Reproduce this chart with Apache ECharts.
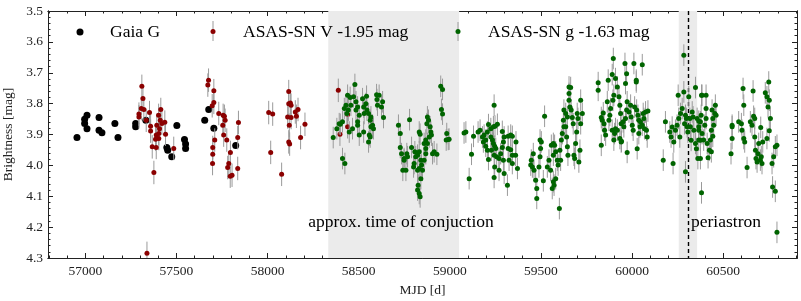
<!DOCTYPE html>
<html><head><meta charset="utf-8">
<script src="https://cdn.jsdelivr.net/npm/echarts@6/dist/echarts.min.js"></script>
<style>html,body{margin:0;padding:0;background:#fff}#c{width:801px;height:301px}</style>
</head><body><div id="c"></div>
<script>
// ---------- data (MJD, magnitude) ----------
const xMajorTicks = [57000,57500,58000,58500,59000,59500,60000,60500];
const yMajorTicks = [3.5,3.6,3.7,3.8,3.9,4.0,4.1,4.2,4.3];
const X_MIN = 56795, X_MAX = 60905, Y_MIN = 3.5, Y_MAX = 4.3;

const conjunctionBand = [58333, 59051];
const periastronBand = [60256, 60357];
const periastronMJD = 60307;

const gaiaG = [[56954,3.910],[56996,3.851],[56996,3.864],[57009,3.838],[57009,3.881],[57075,3.845],[57075,3.886],[57091,3.894],[57162,3.864],[57179,3.910],[57276,3.864],[57276,3.875],[57332,3.854],[57447,3.942],[57452,3.951],[57474,3.972],[57502,3.871],[57544,3.916],[57550,3.931],[57550,3.945],[57655,3.854],[57677,3.819],[57705,3.880],[57825,3.936]];

const asasV2015 = [[57310,3.744],[57316,3.783],[57307,3.816],[57321,3.819],[57294,3.834],[57294,3.843],[57352,3.829],[57334,3.854],[57358,3.873],[57358,3.889],[57414,3.819],[57402,3.838],[57411,3.854],[57436,3.860],[57420,3.864],[57392,3.870],[57407,3.881],[57403,3.897],[57389,3.902],[57440,3.899],[57403,3.913],[57385,3.915],[57367,3.940],[57389,3.942],[57485,3.945],[57376,4.023],[57338,4.285]];
const asasV2016 = [[57676,3.724],[57672,3.740],[57705,3.758],[57705,3.796],[57696,3.807],[57732,3.832],[57756,3.838],[57763,3.841],[57767,3.854],[57840,3.861],[57754,3.870],[57759,3.902],[57776,3.918],[57836,3.910],[57710,3.918],[57699,3.942],[57796,3.958],[57699,3.964],[57698,3.994],[57787,3.994],[57781,4.007],[57836,4.010],[57795,4.035],[57805,4.032]];
const asasV2017 = [[58006,3.829],[58028,3.834],[58116,3.761],[58116,3.800],[58125,3.798],[58129,3.805],[58110,3.843],[58129,3.845],[58152,3.827],[58167,3.819],[58158,3.841],[58119,3.870],[58205,3.867],[58181,3.910],[58116,3.924],[58121,3.931],[58017,3.958],[58077,4.029]];
const asasV2018 = [[58388,3.757],[58439,3.835],[58439,3.875],[58397,3.899]];

const asasG2018 = [[58360,3.910],[58380,3.881],[58393,3.865],[58411,3.859],[58399,3.867],[58421,3.816],[58430,3.805],[58439,3.773],[58453,3.780],[58479,3.738],[58472,3.778],[58485,3.794],[58494,3.811],[58485,3.821],[58503,3.838],[58494,3.870],[58494,3.859],[58466,3.881],[58448,3.892],[58527,3.811],[58521,3.784],[58543,3.776],[58539,3.800],[58545,3.821],[58530,3.832],[58554,3.832],[58567,3.843],[58563,3.854],[58576,3.870],[58581,3.881],[58567,3.875],[58527,3.892],[58503,3.902],[58558,3.902],[58563,3.908],[58554,3.924],[58598,3.771],[58612,3.773],[58600,3.787],[58603,3.805],[58625,3.811],[58631,3.794],[58636,3.845],[58411,3.978],[58424,3.994],[58435,3.832],[58443,3.821],[58457,3.805]];
const asasG2019 = [[58718,3.870],[58728,3.897],[58779,3.852],[58728,3.942],[58735,3.962],[58749,3.978],[58742,4.016],[58759,4.016],[58749,3.983],[58764,3.962],[58768,3.972],[58790,3.942],[58808,3.956],[58813,3.972],[58804,3.994],[58801,4.005],[58823,4.016],[58832,3.892],[58837,3.899],[58823,3.967],[58832,3.956],[58841,3.983],[58845,3.999],[58832,4.010],[58850,4.016],[58823,4.080],[58832,4.091],[58837,4.102],[58826,4.064],[58841,4.043],[58859,3.983],[58868,3.962],[58868,3.945],[58877,3.929],[58874,3.865],[58883,3.854],[58877,3.843],[58892,3.875],[58896,3.892],[58887,3.908],[58868,3.918],[58859,3.929],[58899,3.902],[58905,3.962],[58914,3.956],[58929,3.964],[58950,3.744],[58960,3.754],[58954,3.819],[58960,3.834],[58983,3.897],[58991,3.916],[58996,3.915],[58980,3.918]];
const asasG2020 = [[59078,3.895],[59088,3.892],[59119,3.964],[59106,4.043],[59130,3.906],[59155,3.892],[59166,3.886],[59179,3.908],[59184,3.924],[59197,3.938],[59206,3.951],[59212,3.868],[59225,3.881],[59212,3.981],[59243,3.805],[59239,3.875],[59248,3.873],[59261,3.867],[59225,3.908],[59234,3.918],[59239,3.929],[59246,3.938],[59252,3.945],[59228,3.951],[59243,3.967],[59257,3.972],[59270,3.978],[59279,3.962],[59288,3.942],[59294,3.924],[59298,3.908],[59246,4.005],[59270,4.016],[59243,4.039],[59288,3.890],[59294,3.983],[59298,4.026],[59316,4.064],[59320,3.906],[59334,3.902],[59343,3.906],[59320,3.945],[59334,3.949],[59343,3.967],[59325,3.983],[59343,3.994],[59363,3.924],[59371,4.010],[59361,3.967],[59206,3.892],[59188,3.902],[59197,3.918]];
const asasG2021 = [[59444,3.999],[59453,4.005],[59462,4.016],[59447,3.983],[59458,3.962],[59471,4.048],[59477,4.075],[59477,4.107],[59489,4.005],[59495,3.972],[59498,3.945],[59495,3.918],[59502,3.924],[59513,4.050],[59520,3.841],[59535,4.005],[59544,3.983],[59553,4.016],[59557,3.935],[59568,3.929],[59575,3.935],[59562,4.075],[59572,4.064],[59581,4.043],[59568,4.053],[59568,3.967],[59581,3.956],[59590,3.983],[59594,3.999],[59601,4.140],[59604,3.951],[59608,3.983],[59612,3.918],[59617,3.897],[59626,3.875],[59623,3.854],[59626,3.821],[59636,3.832],[59645,3.843],[59636,3.875],[59641,3.908],[59645,3.940],[59648,3.967],[59654,3.746],[59663,3.748],[59654,3.767],[59654,3.789],[59659,3.811],[59666,3.821],[59672,3.845],[59677,3.865],[59681,3.967],[59685,3.978],[59690,3.929],[59696,3.892],[59703,3.848],[59699,3.832],[59708,3.989],[59714,3.951],[59718,3.789],[59727,3.832],[59718,3.865]];
const asasG2022 = [[59814,3.732],[59814,3.757],[59831,3.845],[59831,3.935],[59836,3.854],[59842,3.830],[59846,3.865],[59849,3.886],[59855,3.902],[59864,3.794],[59869,3.724],[59873,3.854],[59878,3.838],[59882,3.816],[59891,3.706],[59897,3.654],[59895,3.789],[59900,3.773],[59909,3.719],[59891,3.886],[59900,3.918],[59904,3.897],[59909,3.881],[59919,3.746],[59928,3.778],[59933,3.805],[59937,3.832],[59940,3.865],[59942,3.922],[59951,3.859],[59955,3.875],[59964,3.848],[59970,3.821],[59973,3.794],[59961,3.670],[59970,3.703],[59964,3.735],[59973,3.958],[59983,3.827],[59992,3.805],[59995,3.843],[60001,3.870],[60006,3.886],[60010,3.670],[60023,3.724],[60023,3.730],[60014,3.811],[60025,3.821],[60032,3.838],[60037,3.854],[60043,3.875],[60028,3.946],[60037,3.897],[60046,3.859],[60056,3.674],[60061,3.832],[60065,3.848],[60074,3.827],[60083,3.908],[60087,3.824],[60056,3.870],[60068,3.881],[60079,3.886],[59919,3.886],[59933,3.913],[59940,3.924]];
const asasG2023 = [[60171,3.983],[60183,3.859],[60207,3.892],[60214,3.908],[60220,3.876],[60225,3.994],[60229,3.924],[60238,3.886],[60247,3.870],[60253,3.773],[60256,3.848],[60262,3.908],[60266,3.832],[60275,3.816],[60284,3.762],[60284,3.643],[60293,4.021],[60288,3.865],[60293,3.838],[60298,3.848],[60302,3.875],[60306,3.892],[60311,3.778],[60317,3.848],[60320,3.875],[60324,3.919],[60330,3.827],[60335,3.843],[60339,3.886],[60348,3.929],[60348,3.748],[60353,3.946],[60357,3.848],[60366,3.875],[60375,3.919],[60379,3.838],[60361,3.978],[60384,3.773]];
const asasG2024 = [[60381,3.773],[60406,3.773],[60366,3.857],[60366,3.886],[60366,3.918],[60375,3.978],[60381,4.089],[60375,3.859],[60384,3.897],[60393,3.918],[60399,3.870],[60406,3.848],[60406,3.816],[60412,3.929],[60417,3.975],[60424,3.951],[60430,3.918],[60435,3.886],[60439,3.821],[60443,3.848],[60448,3.870],[60454,3.832],[60457,3.805],[60461,3.838],[60435,3.956],[60443,3.906],[60543,3.962],[60549,3.870],[60549,3.913],[60549,3.875],[60585,3.859],[60600,3.865],[60603,3.886],[60609,3.751],[60613,3.913],[60613,3.805],[60618,3.924],[60631,4.007],[60649,3.859],[60658,3.870],[60664,3.759],[60667,3.841],[60673,3.848],[60673,3.908],[60677,3.951],[60680,3.978],[60686,3.989],[60691,3.962],[60695,3.929],[60704,3.983],[60709,3.972],[60713,3.994],[60706,3.877],[60717,3.924],[60731,3.765],[60740,3.778],[60750,3.730],[60753,3.789],[60759,3.848],[60746,3.811],[60740,3.913],[60753,3.888],[60768,3.994],[60777,3.972],[60786,3.940],[60795,3.935],[60771,4.070],[60786,4.084],[60795,4.217]];

const V_ERR = 0.038, G_ERR = 0.035;
// ---------------------------------------------

const asasV = [].concat(asasV2015, asasV2016, asasV2017, asasV2018);
const asasG = [].concat(asasG2018, asasG2019, asasG2020, asasG2021, asasG2022, asasG2023, asasG2024);

const xMinorTicks = []; for (let v = 56800; v <= 60900; v += 100) xMinorTicks.push(v);
const yMinorTicks = []; for (let i = 0; i <= 40; i++) yMinorTicks.push(+(3.5 + i * 0.02).toFixed(2));

const FONT = '"Liberation Serif", "DejaVu Serif", serif';
const AX = '#222';
const RED = '#8b0000', GREEN = '#006400', ERRC = '#9a9a9a';

function xAx(pos, ticks, len, labels) {
  return {
    type: 'value', position: pos, min: X_MIN, max: X_MAX, gridIndex: 0,
    axisLine: { show: true, onZero: false, lineStyle: { color: AX, width: 1 } },
    axisTick: { show: true, inside: true, length: len, customValues: ticks, lineStyle: { color: AX, width: 1 } },
    axisLabel: labels ? { show: true, customValues: xMajorTicks, formatter: v => String(v), fontFamily: FONT, fontSize: 13.5, color: AX, margin: 6 } : { show: false },
    splitLine: { show: false },
    name: labels ? 'MJD [d]' : '', nameLocation: 'middle', nameGap: 25,
    nameTextStyle: { fontFamily: FONT, fontSize: 13.5, color: AX }
  };
}
function yAx(pos, ticks, len, labels) {
  return {
    type: 'value', position: pos, min: Y_MIN, max: Y_MAX, inverse: true, gridIndex: 0,
    axisLine: { show: true, onZero: false, lineStyle: { color: AX, width: 1 } },
    axisTick: { show: true, inside: true, length: len, customValues: ticks, lineStyle: { color: AX, width: 1 } },
    axisLabel: labels ? { show: true, customValues: yMajorTicks, formatter: v => v.toFixed(1), fontFamily: FONT, fontSize: 13.5, color: AX, margin: 5 } : { show: false },
    splitLine: { show: false },
    name: labels ? 'Brightness [mag]' : '', nameLocation: 'middle', nameGap: 31, nameRotate: 90,
    nameTextStyle: { fontFamily: FONT, fontSize: 13.5, color: AX }
  };
}

function errRender(params, api) {
  const x = api.value(0), y = api.value(1), e = api.value(2);
  const p1 = api.coord([x, y - e]), p2 = api.coord([x, y + e]);
  return { type: 'line', shape: { x1: p1[0], y1: p1[1], x2: p2[0], y2: p2[1] }, style: { stroke: ERRC, lineWidth: 1 } };
}

const chart = echarts.init(document.getElementById('c'), null, { renderer: 'canvas' });
chart.setOption({
  animation: false,
  backgroundColor: '#fff',
  grid: { left: 48, right: 4, top: 11, bottom: 43, containLabel: false, outerBoundsMode: 'none' },
  xAxis: [xAx('bottom', xMajorTicks, 5, true), xAx('bottom', xMinorTicks, 2.5, false), xAx('top', xMajorTicks, 5, false), xAx('top', xMinorTicks, 2.5, false)],
  yAxis: [yAx('left', yMajorTicks, 5, true), yAx('left', yMinorTicks, 2.5, false), yAx('right', yMajorTicks, 5, false), yAx('right', yMinorTicks, 2.5, false)],
  series: [
    { type: 'scatter', data: [], z: 1, silent: true,
      markArea: { silent: true, itemStyle: { color: '#ebebeb', opacity: 1 }, label: { show: false },
        data: [[{ xAxis: conjunctionBand[0] }, { xAxis: conjunctionBand[1] }], [{ xAxis: periastronBand[0] }, { xAxis: periastronBand[1] }]] } },
    { type: 'scatter', name: 'Gaia G', data: gaiaG, symbolSize: 7, itemStyle: { color: '#000', opacity: 1 }, z: 3, silent: true },
    { type: 'custom', data: asasV.map(p => [p[0], p[1], V_ERR]), renderItem: errRender, encode: { x: 0, y: 1 }, z: 4, silent: true, clip: true },
    { type: 'scatter', name: 'ASAS-SN V', data: asasV, symbolSize: 5, itemStyle: { color: RED, opacity: 1 }, z: 5, silent: true },
    { type: 'custom', data: asasG.map(p => [p[0], p[1], G_ERR]), renderItem: errRender, encode: { x: 0, y: 1 }, z: 6, silent: true, clip: true },
    { type: 'scatter', name: 'ASAS-SN g', data: asasG, symbolSize: 5, itemStyle: { color: GREEN, opacity: 1 }, z: 7, silent: true },
    { type: 'scatter', data: [], z: 9, silent: true,
      markLine: { silent: true, symbol: ['none', 'none'], label: { show: false },
        lineStyle: { color: '#000', type: [4, 3], width: 1.4 }, data: [{ xAxis: periastronMJD }] } }
  ],
  graphic: [
    { type: 'circle', shape: { cx: 80, cy: 32, r: 3.5 }, style: { fill: '#000' }, z: 20 },
    { type: 'text', x: 110, y: 32, style: { text: 'Gaia G', fontFamily: FONT, fontSize: 17.5, fill: '#000', align: 'left', verticalAlign: 'middle' }, z: 20 },
    { type: 'line', shape: { x1: 213, y1: 21, x2: 213, y2: 41 }, style: { stroke: ERRC, lineWidth: 1 }, z: 20 },
    { type: 'circle', shape: { cx: 213, cy: 31.5, r: 2.5 }, style: { fill: RED }, z: 21 },
    { type: 'text', x: 243, y: 32, style: { text: 'ASAS-SN V -1.95 mag', fontFamily: FONT, fontSize: 17.5, fill: '#000', align: 'left', verticalAlign: 'middle' }, z: 20 },
    { type: 'line', shape: { x1: 458, y1: 22, x2: 458, y2: 41 }, style: { stroke: ERRC, lineWidth: 1 }, z: 20 },
    { type: 'circle', shape: { cx: 458, cy: 31.5, r: 2.5 }, style: { fill: GREEN }, z: 21 },
    { type: 'text', x: 488, y: 32, style: { text: 'ASAS-SN g -1.63 mag', fontFamily: FONT, fontSize: 17.5, fill: '#000', align: 'left', verticalAlign: 'middle' }, z: 20 },
    { type: 'text', x: 401, y: 222, style: { text: 'approx. time of conjuction', fontFamily: FONT, fontSize: 17.5, fill: '#000', align: 'center', verticalAlign: 'middle' }, z: 20 },
    { type: 'text', x: 691, y: 222, style: { text: 'periastron', fontFamily: FONT, fontSize: 17.5, fill: '#000', align: 'left', verticalAlign: 'middle' }, z: 20 }
  ]
});
</script></body></html>
